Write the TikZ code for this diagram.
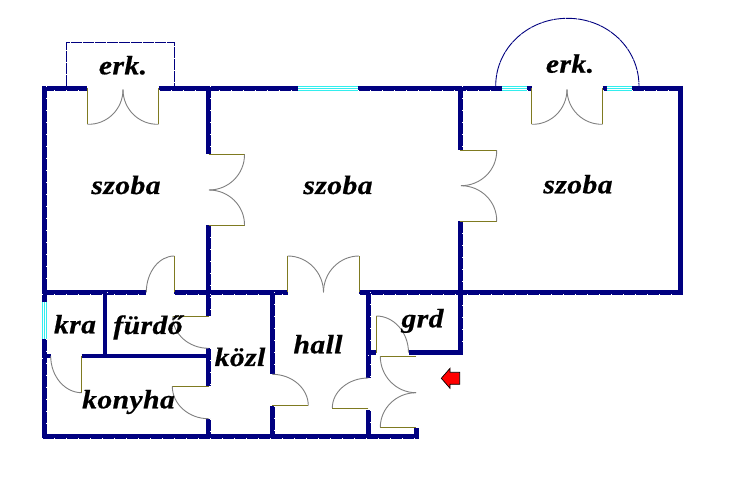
\documentclass[tikz,border=0pt]{standalone}
\usepackage{fontspec}
\usetikzlibrary{calc}
\newfontfamily\lblfont[LetterSpace=1.5,FakeStretch=1.12,BoldItalicFeatures={FakeBold=0.6}]{Liberation Serif}
\definecolor{wallc}{HTML}{000080}
\definecolor{glassc}{HTML}{33EEEE}
\definecolor{leafc}{HTML}{7F7A20}
\definecolor{swingc}{HTML}{808080}
\tikzset{
  wall/.style={draw=wallc,line width=4.8pt,line cap=butt},
  wallticks/.style={draw=white,line width=.5pt,dash pattern=on 1pt off 11pt},
  glass/.style={draw=glassc,line width=4.8pt},
  glassline/.style={draw=white,line width=.5pt},
  balcony/.style={draw=wallc,line width=.9pt,dash pattern=on 11.4pt off .6pt},
  leaf/.style={draw=leafc,line width=.9pt},
  swing/.style={draw=swingc,line width=.9pt},
  room/.style={font=\lblfont\bfseries\itshape\fontsize{26.5}{26.5}\selectfont,anchor=base,inner sep=0pt,text=black},
}
\newcommand{\door}[3]{%
  \coordinate (dh) at (#1); \coordinate (dl) at (#2); \coordinate (do) at (#3);
  \coordinate (dc) at ($(dl)+(do)-(dh)$);
  \draw[leaf] (dh) -- (dl);
  \draw[swing] (dl) .. controls ($(dl)!.55!(dc)$) and ($(do)!.55!(dc)$) .. (do);
}
\newcommand{\hwall}[1]{\draw[wall] #1; \draw[wallticks,yshift=-2.2pt] #1;}
\newcommand{\vwall}[1]{\draw[wall] #1; \draw[wallticks,xshift=2.2pt] #1;}
\begin{document}
\begin{tikzpicture}[x=1pt,y=-1pt]
\useasboundingbox[fill=white] (0,0) rectangle (737,489);
% balconies
\draw[balcony] (66.7,86) -- (66.7,42.3) -- (174.3,42.3) -- (174.3,86);
\draw[balcony] (495.7,86) .. controls (495.7,48) and (528,18.3) .. (567.5,18.3)
   .. controls (607,18.3) and (639,48) .. (639,86);
% walls
\hwall{(42,88.3) -- (87.3,88.3) (158.7,88.3) -- (298,88.3) (358,88.3) -- (502,88.3)
  (527,88.3) -- (531.7,88.3) (602.7,88.3) -- (606.7,88.3) (631.7,88.3) -- (683,88.3)}
\vwall{(44.3,86) -- (44.3,302.3) (44.3,338.7) -- (44.3,438.7)}
\vwall{(680.7,86) -- (680.7,294.7)}
\vwall{(208.5,86) -- (208.5,154.3) (208.5,225.3) -- (208.5,316.3)
  (208.5,348.3) -- (208.5,386.3) (208.5,418.7) -- (208.5,436)}
\vwall{(460.3,86) -- (460.3,150.3) (460.3,221.3) -- (460.3,355)}
\hwall{(42,292.3) -- (146.3,292.3) (174.3,292.3) -- (287.7,292.3) (359,292.3) -- (683,292.3)}
\vwall{(105,292) -- (105,356)}
\hwall{(42,356) -- (50.7,356) (81.7,356) -- (208,356)}
\vwall{(272.3,292) -- (272.3,374.3) (272.3,405.7) -- (272.3,436)}
\vwall{(368.3,292) -- (368.3,378) (368.3,410) -- (368.3,436)}
\hwall{(368,352.7) -- (376.3,352.7) (409,352.7) -- (462.7,352.7)}
\hwall{(42,436.3) -- (418.7,436.3)}
\draw[wall] (416.3,428) -- (416.3,436);
% windows
\foreach \a/\b in {298/358,502/527,606.7/631.7}{
  \draw[glass] (\a,88.3) -- (\b,88.3);
  \draw[glassline] (\a,87.2) -- (\b,87.2) (\a,89.4) -- (\b,89.4);
}
\draw[glass] (44.3,302.3) -- (44.3,338.7);
\draw[glassline] (43.2,302.3) -- (43.2,338.7) (45.4,302.3) -- (45.4,338.7);
% doors
\door{87.3,88.3}{87.3,124.3}{123,89.5}
\door{158.7,88.3}{158.7,124.3}{123,89.5}
\door{208.5,154.3}{244.5,154.3}{209,190}
\door{208.5,225.3}{244.5,225.3}{209,190}
\door{460.3,150.3}{496.7,150.3}{461,185.7}
\door{460.3,221.3}{496.7,221.3}{461,185.7}
\door{531.7,88.3}{531.7,124.3}{567,89.3}
\door{602.7,88.3}{602.7,124.3}{567,89.3}
\door{174.3,292.3}{174.3,256}{146.3,292.3}
\door{287.7,292.3}{287.7,256}{323.5,292.3}
\door{359,292.3}{359,256}{323.5,292.3}
\door{208.5,316.3}{172.7,316.3}{208.5,348.3}
\door{208.5,386.3}{172.3,386.3}{208.5,418.7}
\door{81.7,356}{81.7,392.7}{50.7,356}
\door{272.3,405.7}{308.3,405.7}{272.3,374.3}
\door{368.3,408}{332.3,408}{368.3,378}
\door{376.3,352.7}{376.3,316}{408.5,352.7}
\door{416,356.3}{380.3,356.3}{416,392.7}
\door{416,427.3}{380.3,427.3}{416,392.7}
% entrance arrow
\draw[draw=black,fill=red,line width=.7pt] (450,372.3) -- (459.7,372.3) -- (459.7,384.3) -- (450,384.3)
  -- (450,388.3) -- (441.3,378.3) -- (450,368.3) -- cycle;
% labels
\node[room] (erk1) at (123,74.3) {erk.};
\node[room] (erk2) at (570,72.7) {erk.};
\node[room] (szoba1) at (126,194) {szoba};
\node[room] (szoba2) at (338,194) {szoba};
\node[room] (szoba3) at (578,193.3) {szoba};
\node[room] (kra) at (75,333.3) {kra};
\node[room] (furdo) at (148,334) {fürdő};
\node[room] (kozl) at (240,366) {közl};
\node[room] (konyha) at (128.5,408.3) {konyha};
\node[room] (hall) at (318,353.3) {hall};
\node[room] (grd) at (422.5,327.3) {grd};
\end{tikzpicture}
\end{document}
